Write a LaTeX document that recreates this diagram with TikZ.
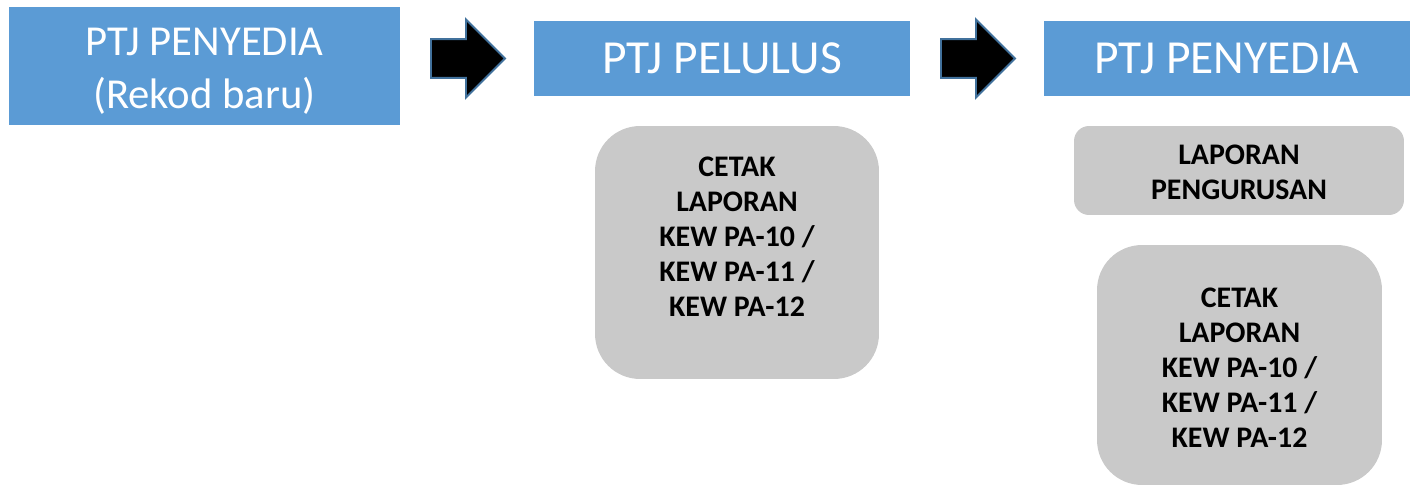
\documentclass[tikz,border=0pt]{standalone}
\usepackage{fontspec}
\setmainfont{Carlito}
\usetikzlibrary{shapes.arrows}
\definecolor{boxblue}{HTML}{5B9BD5}
\definecolor{boxgrey}{HTML}{C9C9C9}
\definecolor{arrowline}{HTML}{41719C}

\begin{document}
\begin{tikzpicture}[x=0.02cm,y=-0.02cm,
		bluebox/.style={fill=boxblue,text=white,inner sep=0pt,align=center},
		greybox/.style={fill=boxgrey,inner sep=0pt},
		greytext/.style={align=center,font=\fontsize{17}{19.9}\selectfont\bfseries},
		blockarrow/.style={single arrow,fill=black,draw=arrowline,line width=1.1pt,
			minimum height=1.48cm,inner sep=0.37cm,single arrow head extend=0.39cm,
			single arrow head indent=0pt,anchor=tail}]
			\useasboundingbox (0,0) rectangle (1410,486);
			% blue headers
			\node[bluebox,minimum width=7.82cm,minimum height=2.36cm] (penyediaA) at (204.5,66) {};
			\node[bluebox,font=\fontsize{24.3}{30.2}\selectfont] (penyediaAtext) at (204.5,71)
				{PTJ PENYEDIA\\(Rekod baru)};
			\node[bluebox,minimum width=7.52cm,minimum height=1.5cm,
				font=\fontsize{27}{32}\selectfont] (pelulus) at (722,58.5) {PTJ PELULUS};
			\node[bluebox,minimum width=7.32cm,minimum height=1.5cm,
				font=\fontsize{27}{32}\selectfont] (penyediaB) at (1227,58.5) {PTJ PENYEDIA};
			% block arrows
			\node[blockarrow] (arrowA) at (430,58.5) {};
			\node[blockarrow] (arrowB) at (940,58.5) {};
			% grey boxes
			\node[greybox,rounded corners=0.9cm,minimum width=5.68cm,minimum height=5.06cm]
				(cetakA) at (737,252.5) {};
			\node[greybox,rounded corners=0.3cm,minimum width=6.6cm,minimum height=1.78cm]
				(laporan) at (1239,170.5) {};
			\node[greybox,rounded corners=0.9cm,minimum width=5.7cm,minimum height=4.8cm]
				(cetakB) at (1239.5,365) {};
			\node[greytext] (cetakAtext) at (737,237)
				{CETAK\\LAPORAN\\KEW PA-10 /\\KEW PA-11 /\\KEW PA-12};
			\node[greytext] (laporantext) at (1239,172) {LAPORAN\\PENGURUSAN};
			\node[greytext] (cetakBtext) at (1239.5,368)
				{CETAK\\LAPORAN\\KEW PA-10 /\\KEW PA-11 /\\KEW PA-12};
		\end{tikzpicture}
\end{document}
